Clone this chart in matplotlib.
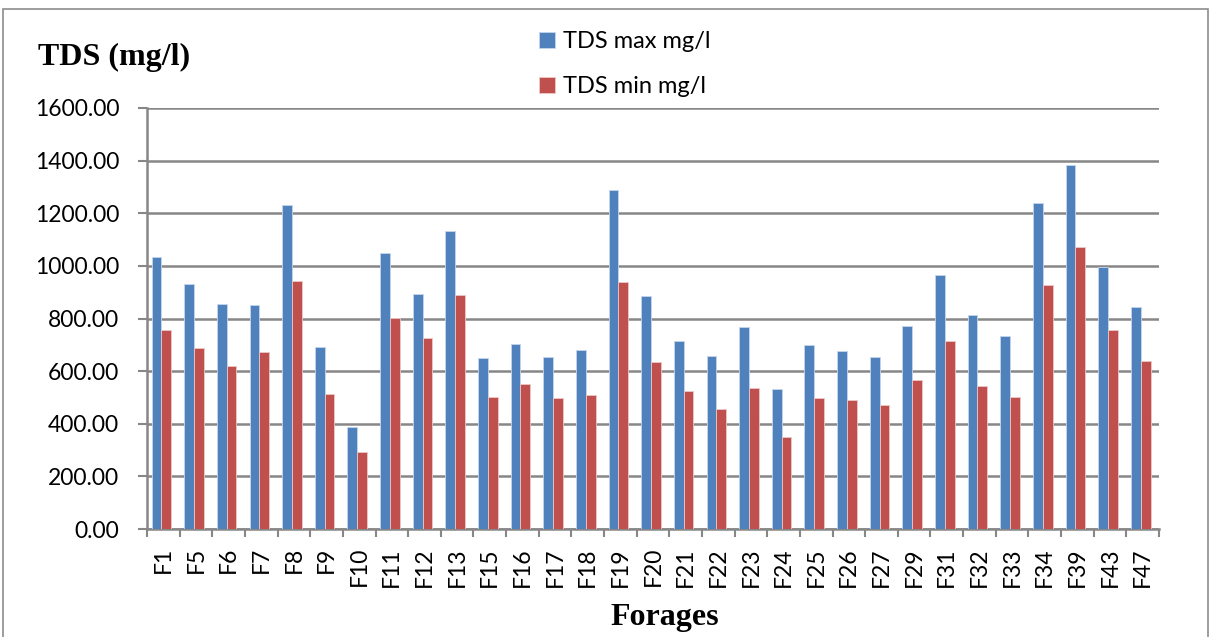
import matplotlib
matplotlib.use("Agg")
import matplotlib.pyplot as plt
import matplotlib.patches as mpatches
from matplotlib.ticker import FixedLocator, FormatStrFormatter
import numpy as np

forages = ["F1", "F5", "F6", "F7", "F8", "F9", "F10", "F11", "F12", "F13",
           "F15", "F16", "F17", "F18", "F19", "F20", "F21", "F22", "F23", "F24",
           "F25", "F26", "F27", "F29", "F31", "F32", "F33", "F34", "F39", "F43", "F47"]
tds_max = [1032, 932, 856, 850, 1230, 693, 386, 1048, 893, 1133,
           650, 702, 653, 679, 1288, 885, 716, 659, 766, 532,
           699, 677, 653, 771, 966, 813, 735, 1240, 1383, 994, 842]
tds_min = [755, 688, 619, 673, 942, 514, 292, 802, 726, 888,
           500, 552, 499, 510, 939, 635, 525, 455, 534, 351,
           499, 491, 471, 568, 715, 544, 500, 927, 1072, 758, 640]
y_ticks = [0, 200, 400, 600, 800, 1000, 1200, 1400, 1600]

BLUE = "#4F81BD"
RED = "#C0504D"
GRID = "#878787"
TICK_FONT = "Lato"
TICK_SIZE = 16.5

W, H = 1213, 637
fig = plt.figure(figsize=(W / 100, H / 100), dpi=100)
ax = fig.add_axes([147 / W, (H - 529) / H, (1159 - 147) / W, (529 - 108) / H])

x = np.arange(len(forages))
bw = 0.3
ax.bar(x - bw / 2 - 0.06, tds_max, width=bw, color=BLUE, edgecolor="#c6d6ec",
       linewidth=0.6, label="TDS max mg/l", zorder=3)
ax.bar(x + bw / 2 - 0.06, tds_min, width=bw, color=RED, edgecolor="#ecc8c7",
       linewidth=0.6, label="TDS min mg/l", zorder=3)

ax.set_xlim(-0.5, len(forages) - 0.5)
ax.set_ylim(0, 1600)
ax.set_yticks(y_ticks)
ax.yaxis.set_major_formatter(FormatStrFormatter("%.2f"))
ax.grid(axis="y", color=GRID, linewidth=1.8, zorder=0)

ax.set_xticks(x)
ax.set_xticklabels(forages, rotation=90, fontsize=TICK_SIZE, family=TICK_FONT)
ax.xaxis.set_minor_locator(FixedLocator(np.arange(-0.5, len(forages), 1.0)))
ax.tick_params(axis="x", which="major", length=0, pad=13)
ax.tick_params(axis="x", which="minor", length=5.5, width=1.5, color=GRID)
ax.tick_params(axis="y", length=6.5, width=1.5, color=GRID, labelsize=TICK_SIZE, pad=13.5)
for lbl in ax.get_yticklabels():
    lbl.set_family(TICK_FONT)

for side in ("top", "right"):
    ax.spines[side].set_visible(False)
for side in ("left", "bottom"):
    ax.spines[side].set_color(GRID)
    ax.spines[side].set_linewidth(1.8)

fig.text(38 / W, 1 - 57 / H, "TDS (mg/l)", family="Liberation Serif",
         fontweight="bold", fontsize=23, va="center", ha="left")
fig.text(665 / W, 1 - 617 / H, "Forages", family="Liberation Serif",
         fontweight="bold", fontsize=23, va="center", ha="center")

handles, labels = ax.get_legend_handles_labels()
fig.legend(handles, labels, loc="upper left", bbox_to_anchor=(530 / W, 1 - 22 / H),
           frameon=False, prop={"family": TICK_FONT, "size": 17},
           handlelength=0.65, handleheight=0.65, handletextpad=0.35,
           labelspacing=1.0, borderaxespad=0)

fig.patches.append(mpatches.Rectangle((3 / W, -0.05), (1208 - 3) / W, 1.05 - 9 / H,
                                      transform=fig.transFigure, fill=False,
                                      edgecolor="#8c8c8c", linewidth=1.2))

fig.savefig("out.png", dpi=100)
